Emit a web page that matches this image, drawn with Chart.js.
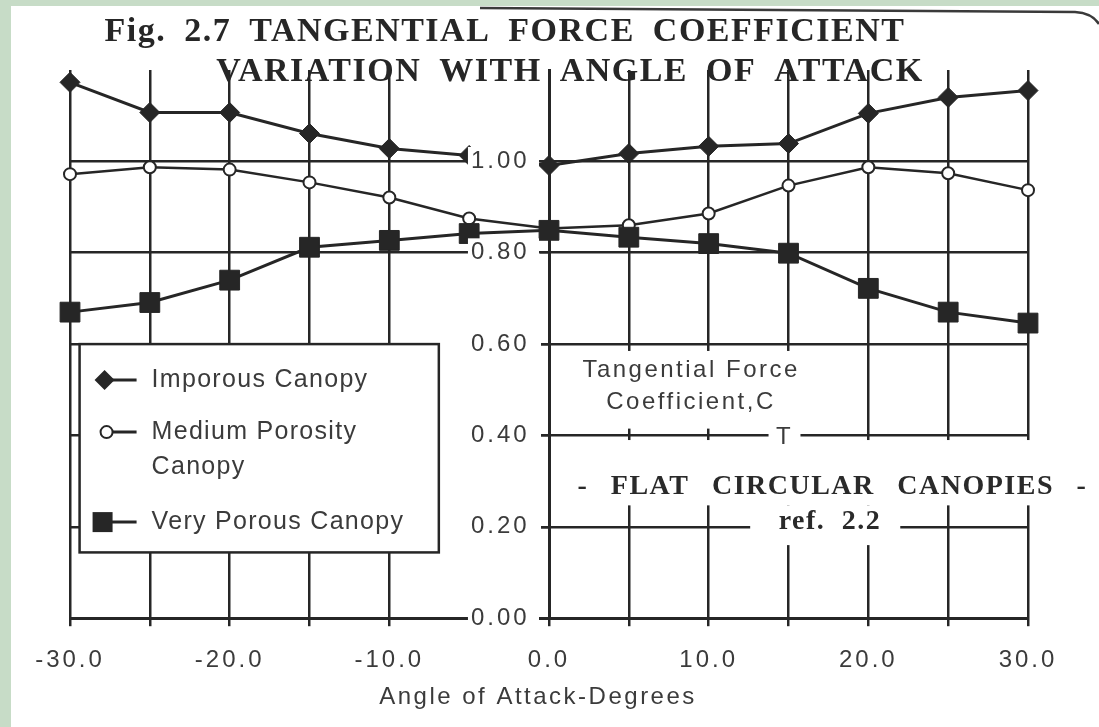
<!DOCTYPE html>
<html lang="en">
<head>
    <meta charset="UTF-8">
    <title>Tangential Force Coefficient Variation</title>
    <script src="https://cdn.jsdelivr.net/npm/chart.js"></script>
    <style>
        body {
            margin: 0;
            background: #c7dcc7;
            width: 1099px;
            height: 727px;
            overflow: hidden;
            position: relative;
        }
        .paper {
            position: absolute;
            left: 11px;
            top: 6px;
            width: 1088px;
            height: 721px;
            background: #ffffff;
        }
        .chart-container {
            position: absolute;
            left: 0;
            top: 0;
            width: 1099px;
            height: 727px;
        }
    </style>
</head>
<body>
    <div class="paper"></div>
    <div class="chart-container"><canvas id="ctChart" width="1099" height="727"></canvas></div>

    <script>
        // Angle of attack (degrees)
        var angles = [-30, -25, -20, -15, -10, -5, 0, 5, 10, 15, 20, 25, 30];

        // Tangential force coefficient C_T
        var imporous = [1.173, 1.107, 1.107, 1.061, 1.028, 1.013, 0.991, 1.017, 1.033, 1.039, 1.105, 1.140, 1.155];
        var mediumPorosity = [0.972, 0.987, 0.982, 0.954, 0.921, 0.875, 0.853, 0.860, 0.886, 0.947, 0.987, 0.974, 0.937];
        var veryPorous = [0.670, 0.691, 0.740, 0.812, 0.827, 0.842, 0.849, 0.834, 0.820, 0.799, 0.722, 0.670, 0.646];

        var seriesNames = ["Imporous Canopy", "Medium Porosity Canopy", "Very Porous Canopy"];

        // grid lines every 5 deg (the original has no line at -5), labels every 10
        var gridAngles = [-30, -25, -20, -15, -10, 0, 5, 10, 15, 20, 25, 30];
        var xLabels = [-30, -20, -10, 0, 10, 20, 30];
        var yTicks = [0, 0.2, 0.4, 0.6, 0.8, 1.0];

        var sansFont = "'Liberation Sans', Arial, sans-serif";
        var serifFont = "'Liberation Serif', 'Times New Roman', serif";
        var ink = "#262626";
        var grey = "#3b3b3b";
        var paper = "#ffffff";

        function points(values) {
            return angles.map(function (a, i) { return { x: a, y: values[i] }; });
        }

        // paper-white patches, legend box and the notes written on the figure
        var sheet = {
            id: "sheet",
            beforeLayout: function (chart) { chart.ctx.letterSpacing = "3px"; },
            beforeDraw: function (chart) { chart.ctx.letterSpacing = "3px"; },
            beforeDatasetsDraw: function (chart) {
                var ctx = chart.ctx, xs = chart.scales.x, ys = chart.scales.y;
                var px = function (v) { return xs.getPixelForValue(v); };
                var py = function (v) { return ys.getPixelForValue(v); };

                // [x from, x to, y from, y to] in data units
                var blanks = [
                    [-6.85, -0.5, 0.008, 0.63],
                    [0.25, 18, 0.415, 0.585],
                    [13.75, 15.75, 0.37, 0.43],
                    [0.25, 40, 0.247, 0.39],
                    [12.6, 22, 0.16, 0.247]
                ];
                ctx.save();
                ctx.fillStyle = paper;
                blanks.forEach(function (b) {
                    var l = px(b[0]), r = px(b[1]), t = py(b[3]), bt = py(b[2]);
                    ctx.fillRect(l, t, r - l, bt - t);
                });

                // legend
                var L = px(-29.4), R = px(-6.9), T = py(0.6), B = py(0.144);
                ctx.fillRect(L, T, R - L, B - T);
                ctx.strokeStyle = ink;
                ctx.lineWidth = 2.5;
                ctx.strokeRect(L, T, R - L, B - T);

                var rows = [
                    { mark: "diamond", lines: ["Imporous Canopy"], dy: 36 },
                    { mark: "circle", lines: ["Medium Porosity", "Canopy"], dy: 88 },
                    { mark: "square", lines: ["Very Porous Canopy"], dy: 178 }
                ];
                ctx.font = "25px " + sansFont;
                ctx.letterSpacing = "1.3px";
                ctx.textBaseline = "middle";
                ctx.textAlign = "left";
                rows.forEach(function (row) {
                    var cx = L + 25, cy = T + row.dy;
                    ctx.strokeStyle = ink;
                    ctx.lineWidth = 3;
                    ctx.beginPath();
                    ctx.moveTo(cx, cy);
                    ctx.lineTo(cx + 32, cy);
                    ctx.stroke();
                    ctx.fillStyle = ink;
                    if (row.mark === "diamond") {
                        ctx.beginPath();
                        ctx.moveTo(cx, cy - 10);
                        ctx.lineTo(cx + 10, cy);
                        ctx.lineTo(cx, cy + 10);
                        ctx.lineTo(cx - 10, cy);
                        ctx.closePath();
                        ctx.fill();
                    } else if (row.mark === "circle") {
                        ctx.beginPath();
                        ctx.arc(cx + 2, cy, 6, 0, Math.PI * 2);
                        ctx.fillStyle = paper;
                        ctx.fill();
                        ctx.lineWidth = 2;
                        ctx.stroke();
                    } else {
                        ctx.fillRect(cx - 12, cy - 10, 20, 20);
                    }
                    ctx.fillStyle = grey;
                    row.lines.forEach(function (s, k) {
                        ctx.fillText(s, L + 72, cy + k * 35);
                    });
                });

                // axis caption
                ctx.font = "24px " + sansFont;
                ctx.letterSpacing = "2.5px";
                ctx.textAlign = "center";
                ctx.fillText("Tangential Force", px(8.9), py(0.543));
                ctx.textAlign = "right";
                ctx.fillText("Coefficient,C", px(14.2), py(0.472));
                ctx.textAlign = "center";
                ctx.fillText("T", px(14.75), py(0.395));

                // notes in bold serif
                ctx.fillStyle = "#2a2a2a";
                ctx.font = "bold 28px " + serifFont;
                ctx.letterSpacing = "1.5px";
                ctx.wordSpacing = "14px";
                ctx.fillText("- FLAT CIRCULAR CANOPIES -", px(17.75), py(0.287));
                ctx.wordSpacing = "8px";
                ctx.fillText("ref. 2.2", px(17.6), py(0.21));
                ctx.restore();
            },
            afterDraw: function (chart) {
                var ctx = chart.ctx;
                ctx.save();
                // edge of the scanned page
                ctx.strokeStyle = "#3a3a3a";
                ctx.lineWidth = 2.5;
                ctx.beginPath();
                ctx.moveTo(480, 8);
                ctx.lineTo(1075, 12);
                ctx.quadraticCurveTo(1092, 13, 1099, 24);
                ctx.stroke();

                ctx.textAlign = "center";
                ctx.textBaseline = "middle";

                // x axis title
                ctx.fillStyle = grey;
                ctx.font = "24px " + sansFont;
                ctx.letterSpacing = "2.5px";
                ctx.fillText("Angle of Attack-Degrees", 538, 697);

                ctx.fillStyle = "#262626";
                ctx.font = "bold 34px " + serifFont;
                ctx.letterSpacing = "1.5px";
                ctx.wordSpacing = "8px";
                ctx.fillText("Fig. 2.7 TANGENTIAL FORCE COEFFICIENT", 505, 32);
                ctx.fillText("VARIATION WITH ANGLE OF ATTACK", 570, 72);
                ctx.restore();
            }
        };

        var tickFont = { family: sansFont, size: 24 };

        var ctChart = new Chart(document.getElementById("ctChart"), {
            type: "line",
            data: {
                datasets: [{
                    label: seriesNames[0],
                    data: points(imporous),
                    borderColor: ink,
                    borderWidth: 3,
                    pointStyle: "rectRot",
                    pointRadius: 10,
                    pointBorderWidth: 1,
                    pointBackgroundColor: ink,
                    pointBorderColor: ink,
                    clip: false
                }, {
                    label: seriesNames[2],
                    data: points(veryPorous),
                    borderColor: ink,
                    borderWidth: 3,
                    pointStyle: "rect",
                    pointRadius: 14,
                    pointBorderWidth: 1,
                    pointBackgroundColor: ink,
                    pointBorderColor: ink,
                    clip: false
                }, {
                    label: seriesNames[1],
                    data: points(mediumPorosity),
                    borderColor: ink,
                    borderWidth: 2.5,
                    pointStyle: "circle",
                    pointRadius: 6,
                    pointBorderWidth: 2,
                    pointBackgroundColor: paper,
                    pointBorderColor: ink,
                    clip: false
                }]
            },
            options: {
                responsive: false,
                animation: false,
                layout: { padding: { left: 70, right: 71, top: 70, bottom: 32 } },
                plugins: {
                    legend: { display: false },
                    tooltip: { enabled: false }
                },
                scales: {
                    x: {
                        type: "linear",
                        min: -30,
                        max: 30,
                        afterBuildTicks: function (axis) {
                            axis.ticks = gridAngles.map(function (v) { return { value: v }; });
                        },
                        ticks: {
                            z: 1,
                            padding: 20,
                            color: grey,
                            font: tickFont,
                            maxRotation: 0,
                            autoSkip: false,
                            callback: function (v) { return xLabels.indexOf(v) >= 0 ? v.toFixed(1) : ""; }
                        },
                        grid: { color: ink, lineWidth: 2.5, tickLength: 8 },
                        border: { color: ink, width: 3 }
                    },
                    y: {
                        type: "linear",
                        min: 0,
                        max: 1.2,
                        position: { x: 0 },
                        afterBuildTicks: function (axis) {
                            axis.ticks = yTicks.map(function (v) { return { value: v }; });
                        },
                        ticks: {
                            z: 1,
                            color: grey,
                            font: tickFont,
                            showLabelBackdrop: true,
                            backdropColor: paper,
                            backdropPadding: { top: 0, bottom: 0, left: 3, right: -10 },
                            // trailing spaces keep the label clear of the axis line
                            callback: function (v) { return v.toFixed(2) + "  "; }
                        },
                        grid: { color: ink, lineWidth: 2.5, tickLength: 8 },
                        border: { color: ink, width: 3 }
                    }
                }
            },
            plugins: [sheet]
        });
    </script>
</body>
</html>
